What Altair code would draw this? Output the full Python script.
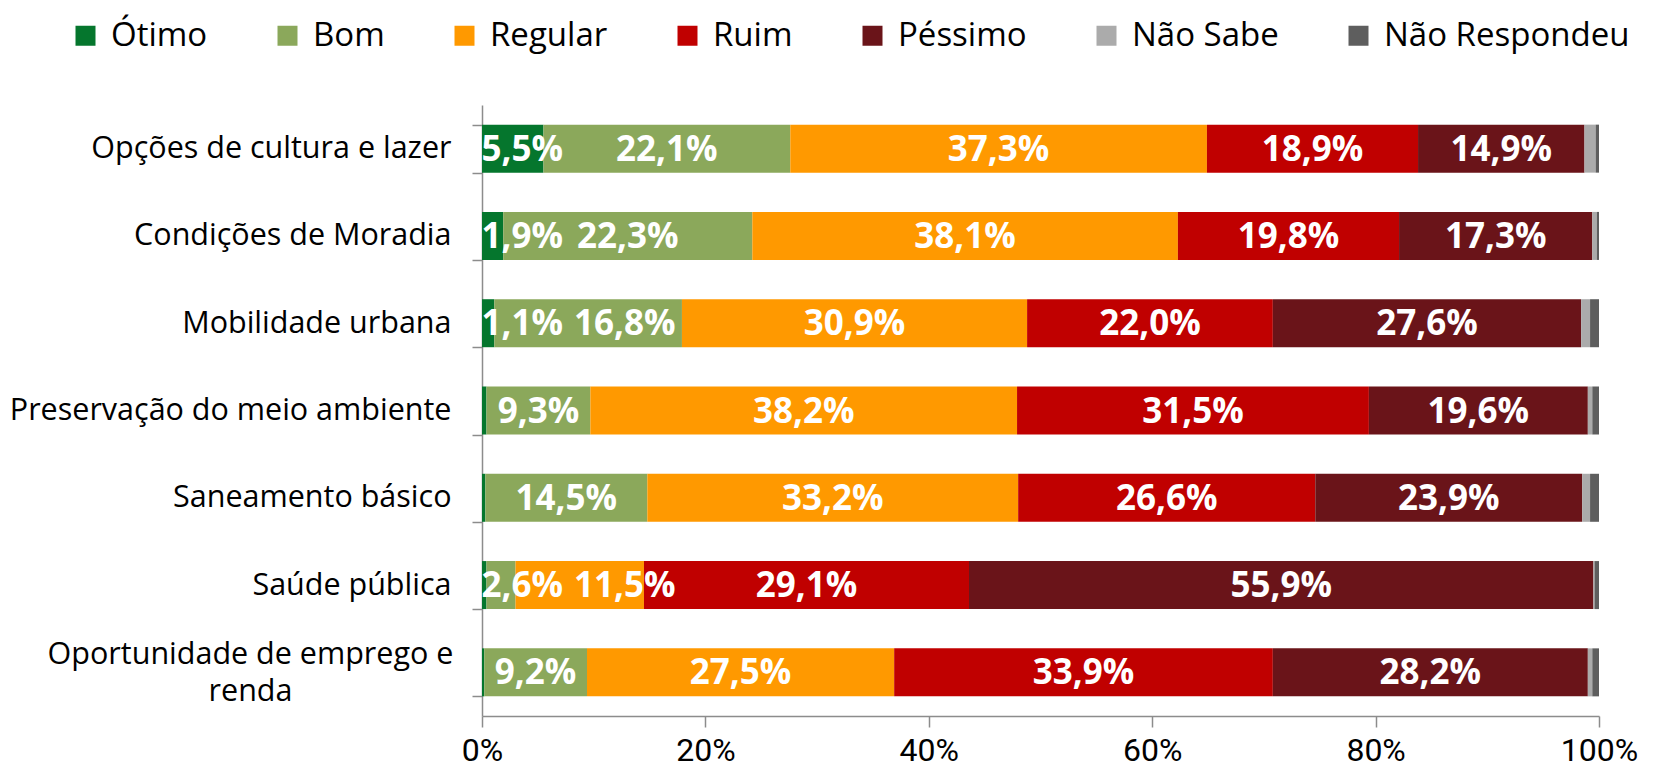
import altair as alt
import pandas as pd

categories = [
    "Opções de cultura e lazer",
    "Condições de Moradia",
    "Mobilidade urbana",
    "Preservação do meio ambiente",
    "Saneamento básico",
    "Saúde pública",
    "Oportunidade de emprego e renda",
]
responses = ["Ótimo", "Bom", "Regular", "Ruim", "Péssimo", "Não Sabe", "Não Respondeu"]
colors = ["#05762D", "#8BA85B", "#FF9900", "#C00000", "#6A1419", "#ABABAB", "#5E5E5E"]

otimo = [5.5, 1.9, 1.1, 0.4, 0.3, 0.4, 0.2]
bom = [22.1, 22.3, 16.8, 9.3, 14.5, 2.6, 9.2]
regular = [37.3, 38.1, 30.9, 38.2, 33.2, 11.5, 27.5]
ruim = [18.9, 19.8, 22.0, 31.5, 26.6, 29.1, 33.9]
pessimo = [14.9, 17.3, 27.6, 19.6, 23.9, 55.9, 28.2]
nao_sabe = [1.0, 0.4, 0.8, 0.4, 0.7, 0.1, 0.4]
nao_respondeu = [0.3, 0.2, 0.8, 0.6, 0.8, 0.4, 0.6]

series = [otimo, bom, regular, ruim, pessimo, nao_sabe, nao_respondeu]
labelled = ["Ótimo", "Bom", "Regular", "Ruim", "Péssimo"]

W, H = 1117, 611
px_per_unit = W / 100.0

rows = []
text_rows = []
for ci, cat in enumerate(categories):
    start = 0.0
    prev_right = -1e9
    for ri, resp in enumerate(responses):
        v = series[ri][ci]
        rows.append({"cat": cat, "resp": resp, "value": v, "idx": ri})
        if resp in labelled and not (resp == "Ótimo" and v < 1):
            txt = f"{v:.1f}".replace(".", ",") + "%"
            w = (2.3 if len(txt) == 4 else 2.876) * 35
            c = (start + v / 2) * px_per_unit
            left = max(c - w / 2, 0.0, prev_right + 12)
            prev_right = left + w
            text_rows.append({"cat": cat, "pos": (left + w / 2) / px_per_unit, "txt": txt})
        start += v

df = pd.DataFrame(rows)
tdf = pd.DataFrame(text_rows)

wrap_cat = "Oportunidade de emprego e renda"
wrap_test = "datum.value == '" + wrap_cat + "'"

x_scale = alt.Scale(domain=[0, 100], nice=False)

y_enc = alt.Y(
    "cat:N",
    sort=categories,
    title=None,
    scale=alt.Scale(paddingInner=0.45, paddingOuter=0.225),
    axis=alt.Axis(
        tickBand="extent",
        tickSize=10,
        tickColor="#8C8C8C",
        tickWidth=1.5,
        domainColor="#8C8C8C",
        domainWidth=1.5,
        labelFont="Open Sans",
        labelFontSize=30.5,
        labelColor="#000000",
        labelLimit=700,
        labelLineHeight=37,
        labelExpr=wrap_test + " ? ['Oportunidade de emprego e', 'renda'] : datum.label",
        labelAlign={"condition": {"test": wrap_test, "value": "center"}, "value": "right"},
        labelPadding={"condition": {"test": wrap_test, "value": 222}, "value": 21},
        labelOffset={"condition": {"test": wrap_test, "value": -18}, "value": 0},
    ),
)

bars = alt.Chart(df).mark_bar().encode(
    x=alt.X(
        "value:Q",
        stack="zero",
        title=None,
        scale=x_scale,
        axis=alt.Axis(
            values=[0, 20, 40, 60, 80, 100],
            labelExpr="datum.value + '%'",
            grid=False,
            tickSize=11,
            tickColor="#8C8C8C",
            tickWidth=1.5,
            domainColor="#8C8C8C",
            domainWidth=1.5,
            labelFont="Roboto",
            labelFontSize=32,
            labelColor="#000000",
            labelPadding=8,
            labelFlush=False,
        ),
    ),
    y=y_enc,
    color=alt.Color(
        "resp:N",
        scale=alt.Scale(domain=responses, range=colors),
        legend=alt.Legend(
            title=None,
            orient="none",
            legendX=-413,
            legendY=-86,
            direction="horizontal",
            symbolType="square",
            symbolSize=400,
            symbolStrokeWidth=0,
            labelFont="Open Sans",
            labelFontSize=33,
            labelColor="#000000",
            labelOffset=9,
            labelLimit=500,
            columnPadding=63,
            padding=0,
        ),
    ),
    order=alt.Order("idx:Q"),
)

texts = alt.Chart(tdf).mark_text(
    color="white",
    font="Open Sans",
    fontSize=35,
    fontWeight="bold",
    align="center",
    baseline="middle",
    dy=1,
).encode(
    x=alt.X("pos:Q", scale=x_scale),
    y=alt.Y("cat:N", sort=categories),
    text="txt:N",
)

chart = (
    alt.layer(bars, texts)
    .properties(
        width=W,
        height=H,
        autosize=alt.AutoSizeParams(type="none"),
        padding={"left": 474, "top": 97, "right": 47, "bottom": 52},
        background="white",
    )
    .configure_view(stroke=None)
    .configure_axis(grid=False)
)

chart.save("out.html", embed_options={"renderer": "svg", "actions": False})
